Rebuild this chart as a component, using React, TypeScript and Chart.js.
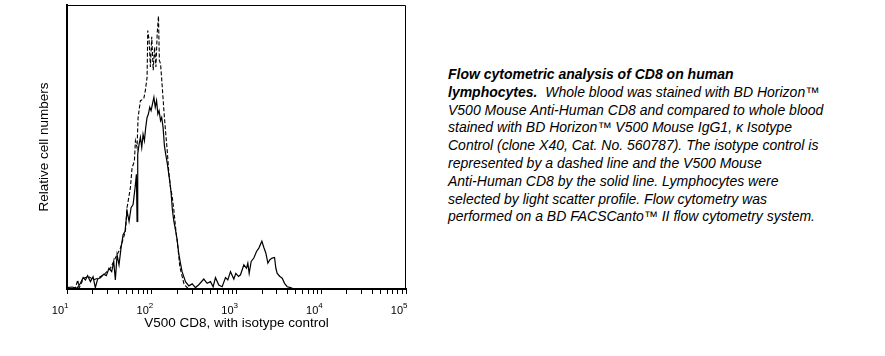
import { useEffect, useRef } from "react";
import { Chart, registerables } from "chart.js";

Chart.register(...registerables);

const FONT = '"Liberation Sans", Arial, Helvetica, sans-serif';

// CD8 (solid line): fluorescence intensity and relative cell numbers (% of plot height)
const cd8X = [10, 11.5, 13.1, 14.4, 15.5, 16.5, 17.5, 18.9, 20.3, 21.6, 23.0, 24.8, 27.1, 29.1, 31.3, 33.7, 35.6, 37.2, 39.0, 41.1, 43.4, 45.9, 48.4, 51.1, 54.0, 57.0, 60.2, 63.6, 65.9, 67.1, 68.3, 70.9, 73.5, 76.2, 79.0, 81.9, 84.9, 88.1, 91.3, 94.7, 98.2, 102, 106, 110, 114, 118, 122, 127, 131, 136, 141, 146, 152, 157, 163, 169, 175, 182, 190, 199, 208, 218, 228, 250, 274, 300, 328, 359, 411, 450, 493, 530, 565, 618, 677, 742, 790, 849, 930, 982, 1056, 1115, 1221, 1313, 1361, 1411, 1490, 1602, 1722, 1835, 1992, 2103, 2221, 2345, 2476, 2638, 2810, 2915, 3022, 3250, 3463, 3689, 3966, 4343, 4756];
const cd8Y = [0.5, 0.7, 0.2, 2.0, 4.0, 3.2, 4.7, 2.6, 4.3, 0.5, 3.5, 4.0, 5.2, 4.7, 7.3, 6.1, 9.7, 3.2, 12.0, 8.5, 14.4, 19.1, 20.3, 27.4, 23.8, 28.6, 29.7, 35.7, 40.4, 23.8, 47.5, 51.0, 53.4, 49.8, 54.5, 52.2, 56.9, 60.4, 61.6, 64.0, 62.8, 65.2, 67.5, 64.0, 66.3, 61.6, 62.8, 59.3, 60.4, 56.9, 50.5, 47.5, 44.5, 41.5, 38.0, 34.0, 28.0, 24.0, 21.0, 17.5, 12.6, 9.1, 6.1, 2.6, 1.1, 1.8, 0.5, 1.5, 3.5, 2.0, 2.6, 0.8, 4.0, 1.4, 0.8, 4.0, 3.2, 6.1, 3.5, 5.5, 4.4, 5.0, 8.5, 7.3, 9.1, 5.5, 9.7, 10.9, 13.2, 14.4, 16.8, 14.6, 12.6, 9.1, 10.3, 10.9, 11.1, 7.3, 5.5, 4.4, 3.8, 2.0, 0.8, 0.5, 0];

// Isotype control (dashed line)
const isoX = [10, 12.5, 13.4, 13.9, 15.7, 18.0, 20.7, 23.7, 27.1, 32.5, 37.2, 42.7, 48.9, 51.1, 56.0, 58.6, 62.4, 64.2, 67.1, 69.0, 73.5, 80.5, 84.2, 88.1, 89.7, 93.0, 96.4, 100, 104, 108, 112, 116, 120, 123, 127, 131, 136, 141, 146, 152, 159, 166, 174, 182, 192, 203, 214, 226, 239, 252, 266, 286];
const isoY = [0.2, 0.2, 3.2, 0.3, 3.8, 4.4, 3.2, 4.0, 5.0, 7.3, 10.9, 14.4, 20.3, 28.6, 35.7, 42.7, 45.0, 52.2, 49.8, 60.4, 66.3, 67.0, 70.0, 74.6, 91.0, 87.7, 78.2, 88.8, 77.0, 85.2, 78.2, 90.0, 96.1, 80.5, 79.3, 74.0, 67.0, 60.5, 55.0, 49.0, 41.0, 36.0, 32.7, 28.0, 21.0, 15.0, 8.0, 5.0, 2.0, 1.0, 0.3, 0.2];

// Axis ticks
const decadeValues = [10, 100, 1000, 10000, 100000];
const tickBase = "10";
const tickExponents = ["1", "2", "3", "4", "5"];
const minorMultipliers = [2, 3, 4, 5, 6, 7, 8, 9];

const xTitle = "V500 CD8, with isotype control";
const yTitle = "Relative cell numbers";

const framePlugin = {
  id: "frame",
  afterDraw(chart: any) {
    const { ctx, chartArea } = chart;
    const { left, top, right, bottom } = chartArea;
    ctx.save();
    ctx.strokeStyle = "#000";
    ctx.lineWidth = 1;
    ctx.beginPath();
    ctx.moveTo(left, Math.round(top) + 0.5);
    ctx.lineTo(Math.round(right) - 0.5, Math.round(top) + 0.5);
    ctx.lineTo(Math.round(right) - 0.5, bottom);
    ctx.stroke();

    // decade tick labels with superscript exponents
    const xs = chart.scales.x;
    ctx.fillStyle = "#000";
    ctx.textBaseline = "alphabetic";
    decadeValues.forEach((v, i) => {
      const px = xs.getPixelForValue(v);
      ctx.font = `11px ${FONT}`;
      ctx.textAlign = "right";
      ctx.fillText(tickBase, px - 3.0, xs.top + 24.5);
      ctx.font = `8px ${FONT}`;
      ctx.textAlign = "left";
      ctx.fillText(tickExponents[i], px - 3.0, xs.top + 18.5);
    });
    ctx.restore();
  },
};

export default function App() {
  const ref = useRef<HTMLCanvasElement>(null);

  useEffect(() => {
    const canvas = ref.current;
    if (!canvas) return;
    const tickValues: number[] = [];
    decadeValues.forEach((d, i) => {
      tickValues.push(d);
      if (i < decadeValues.length - 1) minorMultipliers.forEach((m) => tickValues.push(d * m));
    });
    tickValues.sort((a, b) => a - b);

    const chart = new Chart(canvas, {
      type: "line",
      data: {
        datasets: [
          {
            label: "V500 Mouse Anti-Human CD8",
            data: cd8X.map((x, i) => ({ x, y: cd8Y[i] })),
            borderColor: "#000",
            borderWidth: 1.2,
            pointRadius: 0,
            fill: false,
            tension: 0,
          },
          {
            label: "Isotype control",
            data: isoX.map((x, i) => ({ x, y: isoY[i] })),
            borderColor: "#000",
            borderWidth: 1.1,
            borderDash: [4, 2],
            pointRadius: 0,
            fill: false,
            tension: 0,
          },
        ],
      },
      options: {
        responsive: false,
        animation: false,
        layout: { padding: { left: 30, top: 5, right: 14, bottom: 8 } },
        plugins: { legend: { display: false }, tooltip: { enabled: false } },
        scales: {
          x: {
            type: "logarithmic",
            min: 10,
            max: 100000,
            afterBuildTicks: (scale: any) => {
              scale.ticks = tickValues.map((v) => ({ value: v }));
            },
            afterFit: (scale: any) => {
              scale.height = 43;
            },
            ticks: { display: false, autoSkip: false },
            grid: {
              display: true,
              drawOnChartArea: false,
              drawTicks: true,
              tickLength: 5,
              color: "#000",
              lineWidth: 1,
            },
            border: { display: true, color: "#000", width: 2 },
            title: {
              display: true,
              text: xTitle,
              color: "#000",
              font: { family: FONT, size: 13.5 },
              padding: { top: 0, bottom: 1 },
            },
          },
          y: {
            min: 0,
            max: 100,
            afterFit: (scale: any) => {
              scale.width = 37;
            },
            ticks: { display: false },
            grid: { display: false, drawTicks: false },
            border: { display: true, color: "#000", width: 2 },
            title: {
              display: true,
              text: yTitle,
              color: "#000",
              font: { family: FONT, size: 13.5 },
              padding: { top: 6, bottom: 0 },
            },
          },
        },
      } as any,
      plugins: [framePlugin],
    });
    return () => chart.destroy();
  }, []);

  return (
    <div style={{ position: "absolute", left: 0, top: 0, width: 885, height: 356, background: "#fff" }}>
      <div style={{ position: "absolute", left: 0, top: 0, width: 420, height: 340 }}>
        <canvas ref={ref} width={420} height={340} style={{ display: "block" }} />
      </div>
      <div
        style={{
          position: "absolute",
          left: 448,
          top: 66,
          fontFamily: FONT,
          fontSize: 14,
          lineHeight: "17.8px",
          fontStyle: "italic",
          whiteSpace: "nowrap",
          color: "#000",
        }}
      >
        <span style={{ fontWeight: "bold" }}>Flow cytometric analysis of CD8 on human</span>
        <br />
        <span style={{ fontWeight: "bold" }}>lymphocytes.</span>
        {"\u00a0 Whole blood was stained with BD Horizon\u2122"}
        <br />
        V500 Mouse Anti-Human CD8 and compared to whole blood
        <br />
        {"stained with BD Horizon\u2122 V500 Mouse IgG1, \u03ba Isotype"}
        <br />
        Control (clone X40, Cat. No. 560787). The isotype control is
        <br />
        represented by a dashed line and the V500 Mouse
        <br />
        Anti-Human CD8 by the solid line. Lymphocytes were
        <br />
        selected by light scatter profile. Flow cytometry was
        <br />
        {"performed on a BD FACSCanto\u2122 II flow cytometry system."}
      </div>
    </div>
  );
}
